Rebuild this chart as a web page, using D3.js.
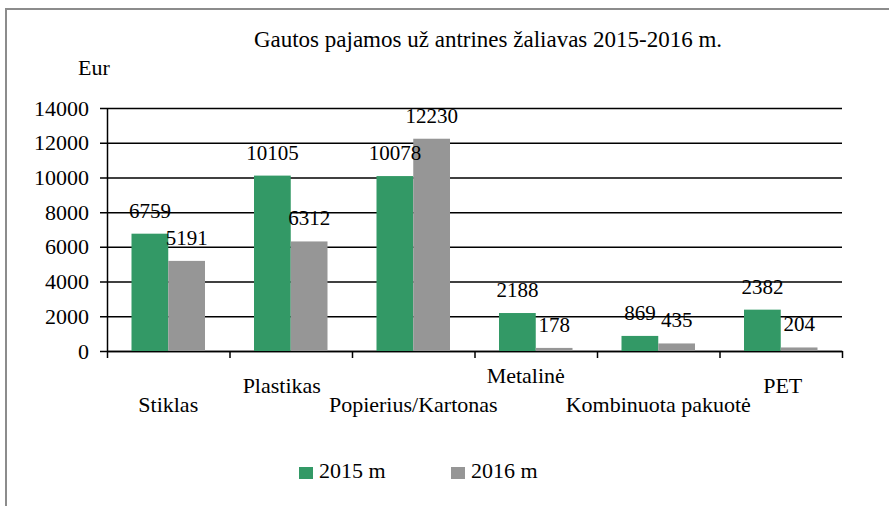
<!DOCTYPE html>
<html>
	<head>
		<meta charset="utf-8">
		<title>Gautos pajamos</title>
	</head>
	<body style="margin:0">

		<svg id="svg" width="889" height="506"></svg>

		<script src="https://d3js.org/d3.v7.min.js"></script>
		<script>
			// Data
			const categories = ['Stiklas', 'Plastikas', 'Popierius/Kartonas', 'Metalinė', 'Kombinuota pakuotė', 'PET']
			const values2015 = [6759, 10105, 10078, 2188, 869, 2382]
			const values2016 = [5191, 6312, 12230, 178, 435, 204]
			const seriesNames = ['2015 m', '2016 m']
			const yTicks = [0, 2000, 4000, 6000, 8000, 10000, 12000, 14000]

			const colors = ['#339966', '#969696']
			const series = [values2015, values2016]

			// Plot area
			const margin = { left: 107, top: 108, right: 47, bottom: 155 }
			const width = 889 - margin.left - margin.right
			const height = 506 - margin.top - margin.bottom

			const svg = d3.select('#svg')
				.attr('font-family', 'Liberation Serif')

			// Outer frame (goes past the right and bottom edge)
			svg.append('rect')
				.attr('x', 6).attr('y', 9)
				.attr('width', 1000).attr('height', 1000)
				.attr('fill', 'none')
				.attr('stroke', '#8c8c8c')
				.attr('stroke-width', 2)

			const g = svg.append('g')
				.attr('transform', `translate(${margin.left}, ${margin.top})`)

			const x0 = d3.scaleBand()
				.domain(categories)
				.range([0, width])

			// two bars in the middle 60% of each category
			const x1 = d3.scaleBand()
				.domain([0, 1])
				.range([x0.bandwidth() * 0.2, x0.bandwidth() * 0.8])

			const y = d3.scaleLinear()
				.domain([0, 14000])
				.range([height, 0])

			// Y axis with gridlines
			const yAxis = g.append('g')
				.call(d3.axisLeft(y)
					.tickValues(yTicks)
					.tickFormat(d3.format('d'))
					.tickSizeInner(-width)
					.tickSizeOuter(0)
					.tickPadding(18))
				.attr('font-family', null)
				.attr('font-size', 22)
			yAxis.selectAll('.tick line')
				.attr('x1', -7)
				.attr('stroke', '#000')
				.attr('stroke-width', 1.5)
			yAxis.select('.domain')
				.attr('stroke', '#000')
				.attr('stroke-width', 1.5)

			// X axis: ticks on category boundaries
			const xb = d3.scaleLinear().domain([0, categories.length]).range([0, width])
			const xAxis = g.append('g')
				.attr('transform', `translate(0, ${height})`)
				.call(d3.axisBottom(xb)
					.ticks(categories.length)
					.tickSizeInner(7)
					.tickSizeOuter(0)
					.tickFormat(''))
			xAxis.selectAll('line, .domain')
				.attr('stroke', '#000')
				.attr('stroke-width', 1.5)

			// Bars
			const groups = g.selectAll('.cat')
				.data(categories)
				.enter()
				.append('g')
				.attr('transform', d => `translate(${x0(d)}, 0)`)

			groups.selectAll('rect')
				.data((d, i) => series.map((s, k) => ({ k: k, v: s[i] })))
				.enter()
				.append('rect')
				.attr('x', d => x1(d.k))
				.attr('width', x1.bandwidth())
				.attr('y', d => y(d.v))
				.attr('height', d => height - y(d.v))
				.attr('fill', d => colors[d.k])

			// Value labels
			groups.selectAll('.val')
				.data((d, i) => series.map((s, k) => ({ k: k, v: s[i] })))
				.enter()
				.append('text')
				.attr('x', d => x1(d.k) + x1.bandwidth() / 2)
				.attr('y', d => y(d.v) - 16)
				.attr('text-anchor', 'middle')
				.attr('font-size', 21)
				.text(d => d.v)

			// Category labels, staggered like the original
			const labelRow = [61, 42, 61, 32, 61, 42]
			const labelShift = [0, -9, 0, -10, 0, 2]
			g.selectAll('.cat-label')
				.data(categories)
				.enter()
				.append('text')
				.attr('x', (d, i) => x0(d) + x0.bandwidth() / 2 + labelShift[i])
				.attr('y', (d, i) => height + labelRow[i])
				.attr('text-anchor', 'middle')
				.attr('font-size', 22)
				.text(d => d)

			// Title and unit
			svg.append('text')
				.attr('x', 488).attr('y', 47)
				.attr('text-anchor', 'middle')
				.attr('font-size', 23)
				.text('Gautos pajamos už antrines žaliavas 2015-2016 m.')

			svg.append('text')
				.attr('x', 78).attr('y', 75)
				.attr('font-size', 22)
				.text('Eur')

			// Legend
			const legend = svg.append('g')
				.attr('transform', 'translate(299, 478)')
			const item = legend.selectAll('g')
				.data(seriesNames)
				.enter()
				.append('g')
				.attr('transform', (d, i) => `translate(${i * 152}, 0)`)
			item.append('rect')
				.attr('x', 0).attr('y', -11)
				.attr('width', 14).attr('height', 12)
				.attr('fill', (d, i) => colors[i])
			item.append('text')
				.attr('x', 20).attr('y', 0)
				.attr('font-size', 22)
				.text(d => d)

			svg.selectAll('text').attr('fill', '#000')
		</script>
	</body>
</html>
